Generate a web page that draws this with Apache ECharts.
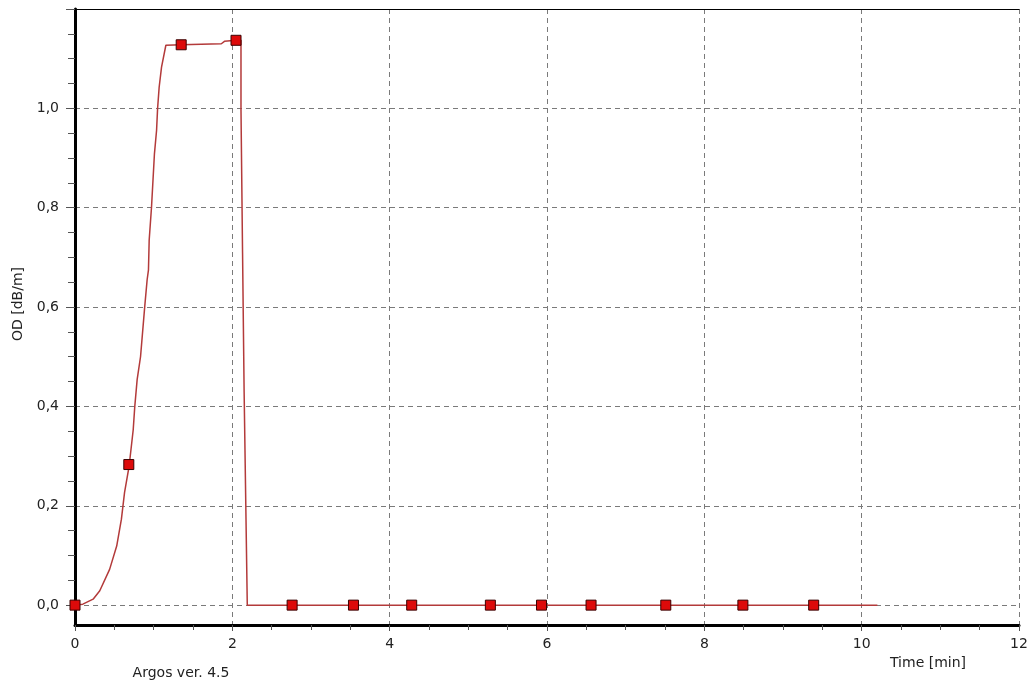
<!DOCTYPE html>
<html>
<head>
<meta charset="utf-8">
<script src="https://cdn.jsdelivr.net/npm/echarts@6/dist/echarts.min.js"></script>
<style>
html,body{margin:0;padding:0;background:#fff;}
#chart{width:1032px;height:686px;}
</style>
</head>
<body>
<div id="chart"></div>
<script>
// Continuous OD curve (time in min, OD in dB/m)
const curveX = [0, 0.1, 0.23, 0.315, 0.44, 0.53, 0.59, 0.63, 0.688, 0.74, 0.76, 0.79, 0.833, 0.888, 0.917, 0.934, 0.943, 0.973, 1.01, 1.037, 1.05, 1.07, 1.10, 1.155, 1.35, 1.86, 1.9, 2.047, 2.11, 2.11, 2.13, 2.13, 2.15, 2.15, 2.17, 2.19, 10.2];
const curveY = [0, 0.002, 0.012, 0.029, 0.072, 0.119, 0.173, 0.227, 0.28, 0.353, 0.40, 0.454, 0.50, 0.604, 0.655, 0.675, 0.735, 0.802, 0.909, 0.956, 1.0, 1.043, 1.083, 1.127, 1.128, 1.13, 1.135, 1.137, 1.137, 0.998, 0.994, 0.709, 0.705, 0.428, 0.424, 0.0, 0.0];
// Sampled points (square markers)
const markerX = [0, 0.684, 1.35, 2.047, 2.76, 3.54, 4.28, 5.28, 5.93, 6.56, 7.51, 8.49, 9.39];
const markerY = [0, 0.283, 1.128, 1.137, 0, 0, 0, 0, 0, 0, 0, 0, 0];
// Axis ticks
const yMajorTicks = [0, 0.2, 0.4, 0.6, 0.8, 1.0, 1.2];
const yMinorTicks = [0, 0.05, 0.1, 0.15, 0.2, 0.25, 0.3, 0.35, 0.4, 0.45, 0.5, 0.55, 0.6, 0.65, 0.7, 0.75, 0.8, 0.85, 0.9, 0.95, 1.0, 1.05, 1.1, 1.15, 1.2];
const yLabelShow = [0, 0.2, 0.4, 0.6, 0.8, 1.0];
const xTickLabels = ['0', '2', '4', '6', '8', '10', '12'];

const FONT = 'DejaVu Sans';
const TXT = '#222';
const gridLine = { show: true, lineStyle: { color: '#7a7a7a', width: 1, type: [5, 4] } };

const chart = echarts.init(document.getElementById('chart'), null, { renderer: 'canvas' });
chart.setOption({
  animation: false,
  backgroundColor: '#fff',
  grid: { left: 75, right: 13, top: 9, bottom: 61, containLabel: false },
  xAxis: [{
    type: 'value', min: 0, max: 12, interval: 2, position: 'bottom',
    axisLine: { show: true, onZero: false, lineStyle: { color: '#000', width: 3 } },
    axisTick: { show: true, inside: false, length: 6, lineStyle: { color: '#555', width: 1 } },
    minorTick: { show: true, splitNumber: 4, length: 5, lineStyle: { color: '#555', width: 1 } },
    axisLabel: { color: TXT, fontFamily: FONT, fontSize: 14, margin: 12,
      formatter: function (v) { return xTickLabels[Math.round(v / 2)]; } },
    splitLine: gridLine
  }, {
    type: 'value', min: 0, max: 12, position: 'top',
    axisLine: { show: true, onZero: false, lineStyle: { color: '#000', width: 1 } },
    axisTick: { show: false }, axisLabel: { show: false }, splitLine: { show: false }
  }],
  yAxis: [{
    type: 'value', min: -0.04, max: 1.2, position: 'left',
    axisLine: { show: true, onZero: false, lineStyle: { color: '#000', width: 3 } },
    axisTick: { show: true, inside: false, length: 9, customValues: yMajorTicks, lineStyle: { color: '#555', width: 1 } },
    axisLabel: { color: TXT, fontFamily: FONT, fontSize: 14, margin: 16, customValues: yLabelShow,
      formatter: function (v) { return v.toFixed(1).replace('.', ','); } },
    splitLine: gridLine
  }, {
    type: 'value', min: -0.04, max: 1.2, position: 'left',
    axisLine: { show: false },
    axisTick: { show: true, inside: false, length: 7, customValues: yMinorTicks, lineStyle: { color: '#555', width: 1 } },
    axisLabel: { show: false }, splitLine: { show: false }
  }],
  graphic: [
    { type: 'text', x: 18, y: 304, rotation: Math.PI / 2,
      style: { text: 'OD [dB/m]', fill: TXT, font: '14px "DejaVu Sans"', textAlign: 'center', textVerticalAlign: 'middle' } },
    { type: 'text', x: 928, y: 663,
      style: { text: 'Time [min]', fill: TXT, font: '14px "DejaVu Sans"', textAlign: 'center', textVerticalAlign: 'middle' } },
    { type: 'text', x: 181, y: 673,
      style: { text: 'Argos ver. 4.5', fill: TXT, font: '14px "DejaVu Sans"', textAlign: 'center', textVerticalAlign: 'middle' } }
  ],
  series: [{
    type: 'line', xAxisIndex: 0, yAxisIndex: 0,
    data: curveX.map((x, i) => [x, curveY[i]]),
    showSymbol: false, smooth: false, clip: false,
    lineStyle: { color: '#b33a3a', width: 1.5 }, z: 3
  }, {
    type: 'scatter', xAxisIndex: 0, yAxisIndex: 0,
    data: markerX.map((x, i) => [x, markerY[i]]),
    symbol: 'rect', symbolSize: 10, clip: false,
    itemStyle: { color: '#dd0a0a', borderColor: '#3a0000', borderWidth: 1, opacity: 1 }, z: 4
  }]
});
</script>
</body>
</html>
